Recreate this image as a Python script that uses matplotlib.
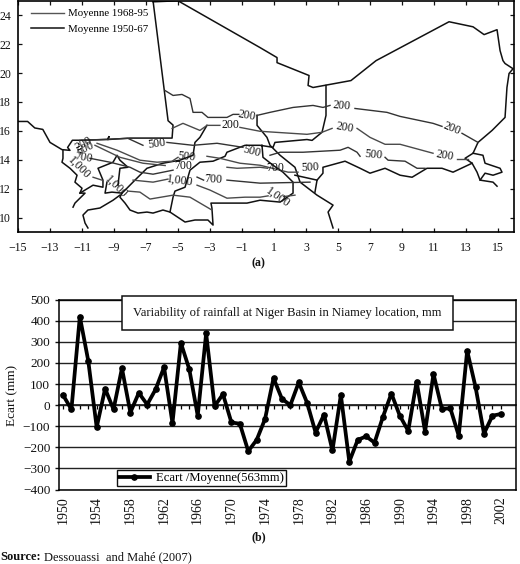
import matplotlib
matplotlib.use('Agg')
import matplotlib.pyplot as plt
from matplotlib.lines import Line2D
from matplotlib.patches import Rectangle

plt.rcParams['font.family'] = ['Liberation Serif', 'DejaVu Serif']

W, H = 520, 564

# Series of panel (b)
years = list(range(1950, 2003))
ecart = [48, -20, 420, 210, -105, 78, -20, 175, -35, 58,
         3, 75, 180, -85, 295, 170, -50, 340, -5, 52,
         -82, -88, -218, -165, -65, 128, 30, 0, 108, 10,
         -130, -45, -215, 48, -268, -165, -148, -178, -55, 55,
         -50, -122, 112, -125, 148, -18, -15, -145, 258, 85,
         -135, -50, -42]

# Borders of panel (a), lon/lat
border_west = [(-6.56, 25), (-5.62, 16.7), (-5.31, 16.4), (-5.37, 15.5), (-8, 15.5), (-9.38, 15.4), (-9.32, 15.6),
               (-9.38, 15.4), (-11.13, 15.35), (-11.6, 15.35), (-11.9, 14.85), (-11.75, 14.65), (-12.25, 14.7),
               (-13, 15.2), (-13.45, 16.1), (-13.95, 16.2), (-14.4, 16.65), (-15, 16.65)]
border_ne = [(-6.56, 24.93), (-5, 25), (0.13, 21.76), (1.19, 21.07), (1.19, 20.72), (3.19, 19.83), (3.13, 19.14), (3.44, 19),
             (5.81, 19.48), (7.38, 20.86), (11.94, 23.55), (13.44, 23.2), (14.13, 22.66), (14.94, 23), (15.13, 21.55),
             (15.31, 20.86), (15.44, 20.66), (15.94, 20.3), (15.69, 19.97), (15.56, 19), (15.44, 16.93), (14.63, 16.03),
             (13.75, 15.2), (13.44, 14.45), (12.94, 14.1), (13.38, 13.76), (12.19, 13.14), (11.5, 13.41), (10.56, 13.41),
             (9.63, 12.79), (8.88, 12.93), (7.94, 13.41), (7, 13.07), (6.38, 13.41), (5.44, 13.9), (4.06, 13.48),
             (4.06, 13.07), (3.69, 12.59), (3.56, 11.76)]
border_mali = [(4.25, 19.14), (4.25, 17.07), (4.06, 16.17), (4, 15.9), (3.38, 15.34), (3.06, 15.4), (1.06, 15.2),
               (0.94, 14.86), (0.13, 15), (-0.81, 15), (-1.94, 14.52), (-2.06, 14.24), (-2.81, 13.9), (-3.63, 13.83),
               (-4.25, 13.28), (-4.56, 12.1), (-5.19, 11.83), (-5.31, 11.41), (-5.5, 10.38), (-4.56, 9.69), (-3.94, 9.83),
               (-3.13, 9.83), (-2.81, 9.48), (-2.88, 10.66), (-2.94, 11), (-0.69, 11), (0.13, 11.2), (1.38, 11.07),
               (2.19, 11.69), (2.19, 12.45), (1.56, 13.14), (0.94, 13.62), (0.31, 14.17), (0.25, 15)]
border_burkina = [(-3.19, 16.38), (-3.63, 15.55), (-3.94, 15.2), (-4.06, 14.31), (-4.88, 13.97), (-5.94, 13.76),
                  (-6.94, 13.41), (-7.69, 12.59), (-8.19, 12.03), (-8.5, 11.69), (-9.13, 11.76), (-9.56, 11.69),
                  (-9.44, 12.45)]
border_guinea = [(-8.63, 11.55), (-9.06, 11.2), (-9.88, 10.66), (-10.63, 10.52), (-10.94, 10.17), (-10.81, 9.62),
                 (-10.63, 9.28)]
border_ivory = [(-5.5, 10.38), (-5.94, 10.52), (-6.56, 10.31), (-6.94, 10.38), (-7.5, 10.31), (-8, 10.52),
                (-8.31, 11), (-8.63, 11.41), (-8.5, 11.69)]
border_senegal = [(-12.19, 14.66), (-12.19, 14.1), (-12.25, 13.83), (-11.75, 13.41), (-11.31, 12.93), (-11.44, 12.45),
                  (-11, 12.03), (-11.13, 11.69), (-10.81, 11.69), (-11.44, 11), (-11.56, 10.72)]
border_gambia = [(-11.13, 11.69), (-10.31, 12.24), (-9.69, 12.1), (-9.69, 12.59), (-10, 13.41), (-9.06, 13.83),
                 (-8.81, 14.31), (-8.63, 13.97), (-8.13, 13.48), (-8.63, 13.41), (-8.75, 12.24)]
border_river = [(-0.06, 17.07), (-0.06, 16.38), (0.56, 15.55), (0.75, 15), (1.38, 14.31), (2.31, 13.48), (2.63, 12.45),
                (3.69, 11.55), (4.69, 10.86), (4.38, 10.38), (4.69, 9.28)]
border_benin = [(2.31, 12.93), (3.69, 12.59)]
border_chad = [(13.44, 14.45), (14.06, 14.31), (14.19, 13.76), (15.13, 13.41), (15.25, 13.14), (14.69, 12.93),
               (14.19, 13.07), (13.88, 12.59), (14.69, 12.45), (14.94, 12.17)]
border_chad2 = [(13.38, 13.76), (13.69, 13.14), (13.88, 12.59)]
borders = [border_west, border_ne, border_mali, border_burkina, border_guinea, border_ivory, border_senegal,
           border_gambia, border_river, border_benin, border_chad, border_chad2]

# Isohyets 1968-95
iso_recent = [
    [(-5.81, 18.79), (-5.31, 18.45), (-4.75, 18.52), (-4.25, 18.24), (-4.06, 17.28), (-3.5, 17.28), (-3.13, 16.93),
     (-1.94, 16.93), (-1.56, 17.14), (-1.2, 17.14)],
    [(-0.06, 17.07), (0.75, 17.28), (2.19, 17.62), (3.44, 17.76), (4.06, 17.62), (4.5, 17.76)],
    [(6.06, 17.55), (8.06, 17.28), (8.88, 17), (10.94, 16.52), (11.5, 16.31)],
    [(12.75, 15.83), (13.75, 15.2)],
    [(-11.13, 15.34), (-8.13, 15.48), (-7.19, 15)],
    [(-5.69, 15.2), (-4.06, 15), (-2.56, 15.14), (-0.94, 14.86)],
    [(0.75, 14.31), (1.38, 14.52), (2.81, 14.52), (5.13, 14.66), (5.63, 14.86), (6.19, 14.52), (6.38, 14.24)],
    [(7.94, 14.17), (8.13, 13.97), (9.19, 13.9), (9.94, 13.41), (10.44, 13.41)],
    [(-10.5, 14.1), (-9.25, 13.83), (-8, 13.48), (-7.38, 13.14), (-6.56, 13), (-5.31, 13.28)],
    [(-3.81, 12.8), (-3.4, 12.59)],
    [(-1.94, 12.59), (0.13, 12.38), (3.25, 12.45)],
]
# Isohyets 1950-67
iso_early = [
    [(-5.37, 16.17), (-4.69, 16.52), (-3.63, 16.03), (-3.19, 16.38), (-2.38, 16.38)],
    [(-1.13, 16.24), (0.13, 15.97), (3.06, 15.76), (4, 15.9), (4.63, 16.17)],
    [(6.19, 16.17), (7, 15.55), (7.94, 15.07), (8.88, 15.07), (10.94, 14.45)],
    [(12.44, 14.03), (13.13, 14.03)],
    [(-10.06, 15.14), (-8.81, 14.66), (-7.38, 13.97), (-6.31, 13.83), (-5.37, 13.9), (-5, 14.17)],
    [(-3.19, 14.24), (-2.38, 14.1), (-1.13, 13.76), (0.13, 13.62), (1.88, 13.14), (2.5, 13.14)],
    [(-10.19, 15), (-8.63, 14.17), (-7.19, 13.76), (-5.8, 13.6)],
    [(-1.94, 13.48), (-1.31, 13.41), (0.13, 13.48), (0.6, 13.41)],
    [(-10.31, 12.79), (-9.75, 12.59)],
    [(-7.81, 12.59), (-6.56, 12.45), (-5.63, 12.66)],
    [(-3.81, 12.24), (-3, 11.9), (-1.94, 11.34), (-0.81, 11.41), (0.13, 11.41), (0.63, 11.5)],
    [(1.6, 11.45), (2.31, 11.55)],
    [(-8.13, 11.83), (-7.38, 11.76), (-6.75, 11.28), (-5.31, 11.55), (-4.25, 11.41), (-2.88, 10.52)],
]

# Contour labels: text, lon, lat, rotation
iso_labels = [('200', -0.69, 17.07, -10), ('200', 5.25, 17.76, -5), ('200', 12.13, 16.17, -22),
              ('200', -1.75, 16.38, 0), ('200', 5.44, 16.24, -10), ('200', 11.69, 14.31, -10),
              ('500', -6.31, 15.14, 8), ('500', -0.38, 14.59, -15), ('500', 7.19, 14.31, -5),
              ('500', -4.5, 14.17, -5), ('500', 3.25, 13.48, 3), ('700', -4.69, 13.55, 0),
              ('700', -2.81, 12.66, -3), ('700', 1.06, 13.41, 0), ('1,000', -4.88, 12.52, -8),
              ('1,000', 1.25, 11.41, -35), ('200', -10.9, 15.1, 30), ('500', -10.8, 14.8, 25),
              ('700', -10.9, 14.15, -10), ('1,000', -11.15, 13.45, -45), ('1,000', -8.85, 12.15, -45)]


def px_axes(left, top, right, bottom):
    return [left / W, 1 - bottom / H, (right - left) / W, (bottom - top) / H]


fig = plt.figure(figsize=(W / 100, H / 100), dpi=100, facecolor='white')

# (a) carte
ax_map = fig.add_axes(px_axes(18, 0.8, 514, 232))
for line in borders:
    ax_map.plot([p[0] for p in line], [p[1] for p in line], color='#111111', lw=1.1, solid_joinstyle='round')
for line in iso_recent:
    ax_map.plot([p[0] for p in line], [p[1] for p in line], color='#333333', lw=1.0)
for line in iso_early:
    ax_map.plot([p[0] for p in line], [p[1] for p in line], color='#4a4a4a', lw=1.0)
for txt, lon, lat, rot in iso_labels:
    ax_map.text(lon, lat, txt, fontsize=8.5, ha='center', va='center', rotation=rot, color='#111111')

ax_map.set_xlim(-15, 16)
ax_map.set_ylim(9, 25)
ax_map.set_xticks(range(-15, 16, 2))
ax_map.set_yticks(range(10, 25, 2))
ax_map.tick_params(direction='in', top=True, right=True, length=3, width=0.9, labelsize=8.5, pad=5, colors='#111111')
ax_map.tick_params(axis='x', pad=7)
for s in ax_map.spines.values():
    s.set_linewidth(1.2)
handles = [Line2D([], [], color='#555555', lw=1.0), Line2D([], [], color='#111111', lw=1.1)]
ax_map.legend(handles, ['Moyenne 1968-95', 'Moyenne 1950-67'], loc='upper left', bbox_to_anchor=(0.01, 0.998),
              frameon=False, fontsize=7.8, handlelength=3.1, handletextpad=0.35, labelspacing=0.55, borderpad=0.2)

# (b) ecarts
ax = fig.add_axes(px_axes(59.3, 299.7, 516, 489.5))
ax.set_xlim(1949.56, 2003.8)
ax.set_ylim(-400, 500)
ax.set_yticks(range(-400, 501, 100))
ax.grid(axis='y', color='#222222', lw=1.0)
ax.set_axisbelow(True)
ax.plot(years, ecart, color='black', lw=2.7, marker='o', ms=3.8, label='Ecart /Moyenne(563mm)', zorder=3)
ax.set_xticks(years[::4])
ax.tick_params(axis='x', length=0, labelrotation=90, labelsize=10, pad=5, colors='#111111')
ax.tick_params(axis='y', length=3, width=1, labelsize=9.5, pad=3.5, colors='#111111')
for s in ax.spines.values():
    s.set_linewidth(1.1)

# graduations annuelles sur la ligne zero
zero_line = ax.secondary_xaxis(400 / 900)
zero_line.set_xticks(years)
zero_line.set_xticklabels([])
zero_line.tick_params(direction='out', length=3, width=0.9)
zero_line.spines['bottom'].set_linewidth(1.1)

leg = ax.legend(loc='lower left', bbox_to_anchor=(117 / 457 - 0.129, 0.018), fontsize=9.1, fancybox=False,
                framealpha=1, edgecolor='#111111', handlelength=2.4, handletextpad=0.5, borderpad=0.15, borderaxespad=0)
leg.get_frame().set_linewidth(1.0)

# cadre du titre
title_box = Rectangle((122 / W, 1 - 330 / H), 331 / W, 34 / H, transform=fig.transFigure, facecolor='white',
                      edgecolor='#111111', lw=1.1, zorder=5)
fig.add_artist(title_box)
fig.text(133 / W, 1 - 313 / H, 'Variability of rainfall at Niger Basin in Niamey location, mm', fontsize=9.05,
         va='center', ha='left', color='#111111', zorder=6)

fig.text(12 / W, 1 - 395 / H, 'Ecart (mm)', rotation=90, fontsize=9.5, va='center', ha='center', color='#111111')
fig.text(258 / W, 1 - 263 / H, '(a)', fontsize=8.5, fontweight='bold', va='center', ha='center', color='#111111')
fig.text(259 / W, 1 - 537 / H, '(b)', fontsize=8.5, fontweight='bold', va='center', ha='center', color='#111111')
fig.text(0.5 / W, 1 - 557 / H, 'Source:', fontsize=9, fontweight='bold', va='center', ha='left', color='#111111')
fig.text(44 / W, 1 - 557 / H, 'Dessouassi  and Mahé (2007)', fontsize=9, va='center', ha='left', color='#111111')

fig.savefig('out.png', dpi=100)
